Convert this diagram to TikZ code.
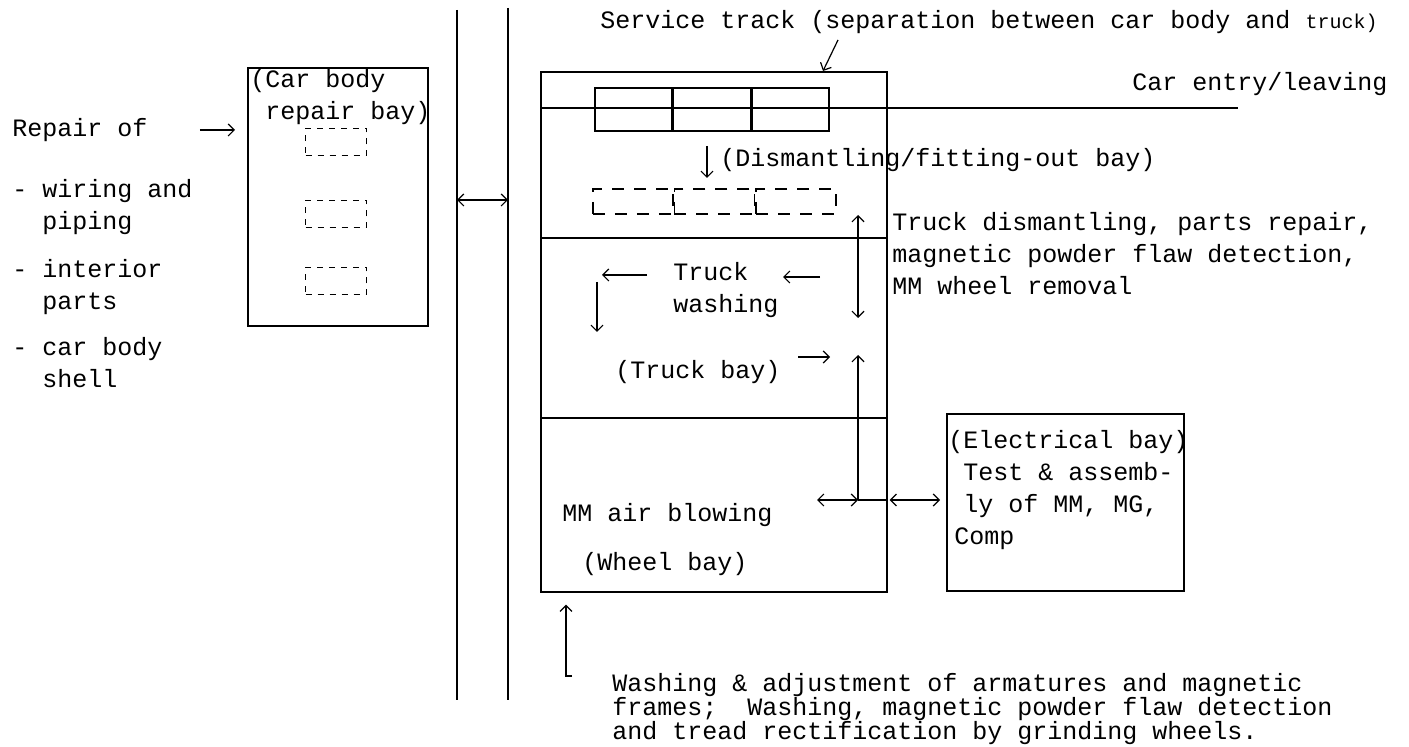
\documentclass[tikz,border=0pt]{standalone}
\usepackage{fontspec}
\setmonofont{Liberation Mono}
\usetikzlibrary{arrows.meta,positioning}

\begin{document}
\begin{tikzpicture}[x=0.5pt,y=-0.5pt,
  txt/.style={inner sep=0pt,align=left,font=\ttfamily\fontsize{12.5}{16}\selectfont,execute at begin node=\strut},
  bay/.style={draw,thick,minimum width=173pt,inner sep=0pt},
  carbox/.style={draw,thick,minimum width=38.5pt,minimum height=21.5pt,inner sep=0pt},
  slot/.style={draw,thick,dash pattern=on 6pt off 5pt,minimum width=40pt,minimum height=12.5pt,inner sep=0pt},
  pit/.style={draw,thick,dash pattern=on 3pt off 3pt,minimum width=30.5pt,minimum height=13.5pt,inner sep=0pt},
  arrow/.style={-{Straight Barb[length=3pt,width=6pt]},semithick},
  twoway/.style={{Straight Barb[length=3pt,width=6pt]}-{Straight Barb[length=3pt,width=6pt]},semithick}
]
\useasboundingbox (0,0) rectangle (1409,747);

% left side: car body repair
\node[txt,anchor=west] (repairof) at (12,130) {Repair of};
\node[txt,anchor=north west] (wiring) at (12,179) {- wiring and\\\hspace*{15pt}piping};
\node[txt,anchor=north west] (interior) at (12,259) {- interior\\\hspace*{15pt}parts};
\node[txt,anchor=north west] (shell) at (12,337) {- car body\\\hspace*{15pt}shell};
\node[draw,thick,minimum width=90pt,minimum height=129pt,inner sep=0pt,anchor=north west] (cbbay) at (247,67) {};
\node[txt,anchor=north west] (cblabel) at (250,69) {(Car body\\\hspace*{7.5pt}repair bay)};
\node[pit] (pit1) at (336,142) {};
\node[pit] (pit2) at (336,214) {};
\node[pit] (pit3) at (336,281) {};
\draw[arrow] ([xshift=26pt]repairof.east) -- ([xshift=-6pt]cbbay.west |- repairof.east);

% separation walls
\coordinate (wallA) at (457,10);
\coordinate (wallB) at (508,8);
\coordinate (xfer) at (457,200);
\draw[thick] (wallA) -- (wallA |- 0,700);
\draw[thick] (wallB) -- (wallB |- 0,700);
\draw[twoway] (xfer) -- (xfer -| wallB);

% main bays
\node[bay,minimum height=83pt,anchor=north west] (dismantle) at (540,71) {};
\node[bay,minimum height=90pt,anchor=north west] (truckbay) at (540,237) {};
\node[bay,minimum height=87pt,anchor=north west] (wheelbay) at (540,417) {};

% service track
\node[txt,anchor=west] (sttext) at (600,22) {Service track (separation between car body and {\fontsize{10}{12}\selectfont truck)}};
\coordinate (sttail) at (838,40);
\coordinate (sttip) at (823,71);
\draw[arrow] (sttail) -- (sttip);
\coordinate (trackW) at (540,108);
\coordinate (trackE) at (1238,108);
\node[txt,anchor=west] (entry) at (1132,84) {Car entry/leaving};
\node[carbox,anchor=north west] (car1) at (594,87) {};
\node[carbox,right=0pt of car1] (car2) {};
\node[carbox,right=0pt of car2] (car3) {};
\draw[thick] (trackW) -- (trackE);

% dismantling / fitting-out
\node[txt,anchor=west] (dislabel) at (720,160) {(Dismantling/fitting-out bay)};
\coordinate (dtop) at (707,146);
\coordinate (dbot) at (707,178);
\draw[arrow] (dtop) -- (dbot);
\node[slot,anchor=north west] (slot1) at (592,188) {};
\node[slot,right=0pt of slot1] (slot2) {};
\node[slot,right=0pt of slot2] (slot3) {};
\coordinate (lift1) at (858,215);
\coordinate (lift2) at (858,318);
\draw[twoway] (lift1) -- (lift2);
\node[txt,anchor=north west] (trucknote) at (892,212) {Truck dismantling, parts repair,\\magnetic powder flaw detection,\\MM wheel removal};

% truck bay
\node[txt,anchor=north west] (washing) at (673,262) {Truck\\washing};
\node[txt,anchor=west] (tblabel) at (615,372) {(Truck bay)};
\coordinate (w1) at (820,277);
\coordinate (w2) at (783,277);
\coordinate (w3) at (647,275);
\coordinate (w4) at (602,275);
\coordinate (w5) at (597,282);
\coordinate (w6) at (597,332);
\coordinate (w7) at (798,357);
\coordinate (w8) at (830,357);
\draw[arrow] (w1) -- (w2);
\draw[arrow] (w3) -- (w4);
\draw[arrow] (w5) -- (w6);
\draw[arrow] (w7) -- (w8);

% wheel bay and electrical bay
\node[txt,anchor=west] (airblow) at (562,515) {MM air blowing};
\node[txt,anchor=west] (wblabel) at (582,564) {(Wheel bay)};
\node[draw,thick,minimum width=118.5pt,minimum height=88.5pt,inner sep=0pt,anchor=north west] (elecbay) at (946,413) {};
\node[txt,anchor=north west] (eleclabel) at (948,430) {(Electrical bay)\\\hspace*{7.5pt}Test \& assemb-\\\hspace*{7.5pt}ly of MM, MG,\\\hspace*{3pt}Comp};
\coordinate (junction) at (858,500);
\coordinate (mmleft) at (817,500);
\coordinate (lift3) at (858,355);
\draw[arrow] (junction) -- (lift3);
\draw[twoway] (mmleft) -- (junction);
\draw[semithick] (junction) -- (wheelbay.east |- junction);
\draw[twoway,shorten >=3pt,shorten <=1pt] (wheelbay.east |- junction) -- (elecbay.west |- junction);

% armature / wheel note
\coordinate (foot) at (572,676);
\coordinate (bend) at (566,676);
\draw[arrow,shorten >=6pt] (foot) -- (bend) -- (bend |- wheelbay.south);
\node[txt,anchor=north west,font=\ttfamily\fontsize{12.5}{12}\selectfont] (washnote) at (612,673) {Washing \& adjustment of armatures and magnetic\\frames;\ \ Washing, magnetic powder flaw detection\\and tread rectification by grinding wheels.};
\end{tikzpicture}
\end{document}
